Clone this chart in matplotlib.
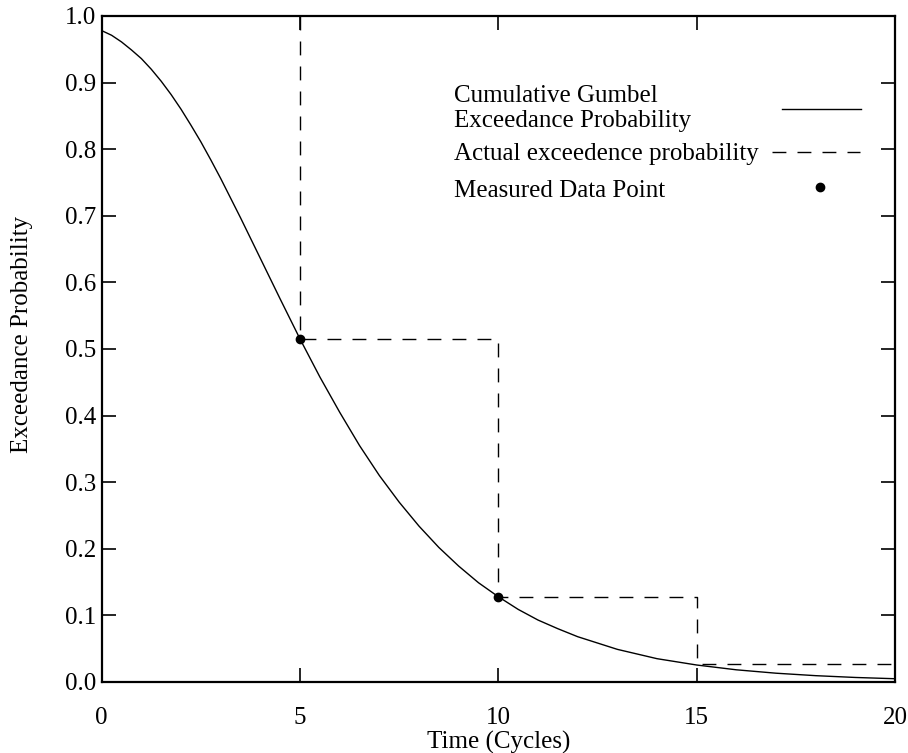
import matplotlib.pyplot as plt

plt.rcParams['font.family'] = ['Liberation Serif', 'DejaVu Serif']
plt.rcParams['font.size'] = 18

# Gumbel exceedance curve
time_cycles = [0, 0.25, 0.5, 0.75, 1, 1.25, 1.5, 1.75, 2, 2.25, 2.5, 2.75, 3, 3.5,
               4, 4.5, 5, 5.5, 6, 6.5, 7, 7.5, 8, 8.5, 9, 9.5, 10, 10.5, 11, 11.5,
               12, 13, 14, 15, 16, 17, 18, 19, 20]
gumbel_prob = [0.978, 0.971, 0.961, 0.949, 0.936, 0.920, 0.902, 0.882, 0.860, 0.836,
               0.811, 0.784, 0.756, 0.697, 0.636, 0.575, 0.515, 0.458, 0.405, 0.355,
               0.310, 0.270, 0.234, 0.202, 0.174, 0.149, 0.128, 0.109, 0.093, 0.080,
               0.068, 0.049, 0.035, 0.0255, 0.0183, 0.0132, 0.0095, 0.0068, 0.0049]

# actual exceedance (step) levels
step_t = [5, 5, 10, 15, 20]
step_p = [1.0, 0.515, 0.128, 0.027, 0.027]

# measured data points
meas_t = [5, 10]
meas_p = [0.515, 0.128]

legend_labels = ['Cumulative Gumbel\nExceedance Probability',
                 'Actual exceedence probability',
                 'Measured Data Point']

fig = plt.figure(figsize=(9.08, 7.53), dpi=100)
ax = fig.add_axes([0.112, 0.0943, 0.8737, 0.8845])

ax.plot(time_cycles, gumbel_prob, color='black', lw=1.0)
ax.plot(step_t, step_p, color='black', lw=1.0, drawstyle='steps-post',
        dashes=(10, 8))
ax.plot(meas_t, meas_p, 'o', color='black', ms=6, ls='none')

ax.set_xlim(0, 20)
ax.set_ylim(0, 1.0)
ax.set_xticks([0, 5, 10, 15, 20])
ax.set_yticks([i / 10 for i in range(11)])
ax.set_yticklabels([f'{i / 10:.1f}' for i in range(11)])
ax.tick_params(direction='in', length=10, width=1.2, top=True, right=True)
ax.tick_params(axis='x', pad=18)
ax.tick_params(axis='y', pad=4)
for s in ax.spines.values():
    s.set_linewidth(1.6)

ax.set_xlabel('Time (Cycles)')
ax.xaxis.set_label_coords(0.5, -0.073)
ax.set_ylabel('Exceedance Probability')
ax.yaxis.set_label_coords(-0.087, 0.522)

# legend: text on the left, keys on the right
tr = ax.transAxes
ax.text(0.444, 0.8338, legend_labels[0], transform=tr, va='baseline',
        linespacing=1.15)
ax.text(0.444, 0.7838, legend_labels[1], transform=tr, va='baseline')
ax.text(0.444, 0.7287, legend_labels[2], transform=tr, va='baseline')
ax.plot([0.858, 0.957], [0.860, 0.860], color='black', lw=1.0, transform=tr)
ax.plot([0.845, 0.956], [0.796, 0.796], color='black', lw=1.0,
        dashes=(10, 8), transform=tr)
ax.plot([0.906], [0.7437], 'o', color='black', ms=6, transform=tr)

fig.savefig('out.png', dpi=100)
